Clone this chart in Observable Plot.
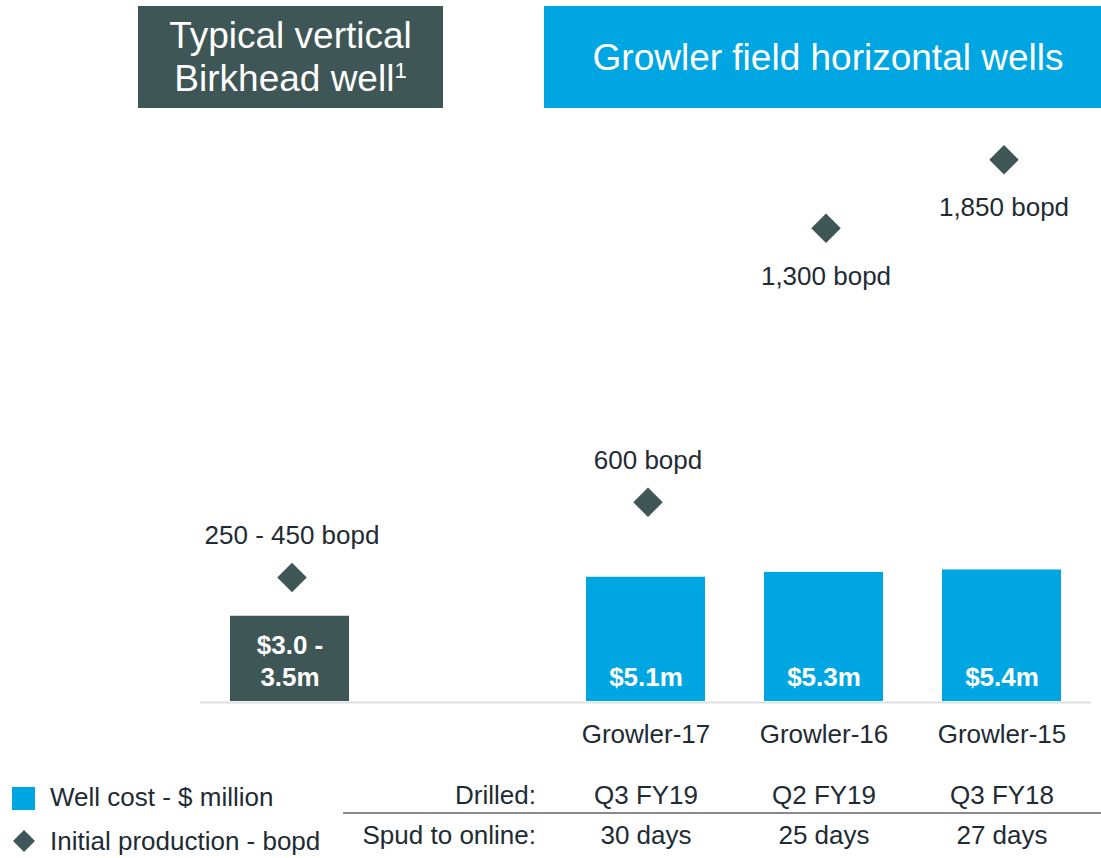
<!DOCTYPE html>
<html>
<head>
<meta charset="utf-8">
<script src="https://cdn.jsdelivr.net/npm/d3@7"></script>
<script src="https://cdn.jsdelivr.net/npm/@observablehq/plot@0.6"></script>
<style>
  html, body { margin: 0; padding: 0; background: #ffffff; }
  #wrap { position: relative; width: 1101px; height: 858px; overflow: hidden;
          font-family: "Liberation Sans", Arial, sans-serif; color: #212b33; }
  #chart { position: absolute; left: 0; top: 0; }
  .hdr { position: absolute; top: 6px; height: 102px; color: #ffffff; font-size: 37px;
         display: flex; align-items: center; justify-content: center; text-align: center;
         line-height: 43px; }
  #hdrV { left: 138px; width: 305px; background: #3e5655; }
  #hdrH { left: 544px; width: 557px; background: #00a6e1; padding-left: 11px; box-sizing: border-box; }
  .sup { font-size: 22px; position: relative; top: -13px; line-height: 0; }
  .legText { position: absolute; left: 50px; font-size: 26px; line-height: 26px; white-space: nowrap; }
  #legSq { position: absolute; left: 12px; top: 787px; width: 23px; height: 23px; background: #00a6e1; }
  #legDia { position: absolute; left: 13px; top: 830px; }
  #sep { position: absolute; left: 343px; top: 812px; width: 758px; height: 2px; background: #8a8a8a; }
</style>
</head>
<body>
<div id="wrap">
  <div id="chart"></div>
  <div class="hdr" id="hdrV"><div>Typical vertical<br>Birkhead well<span class="sup">1</span></div></div>
  <div class="hdr" id="hdrH"><div>Growler field horizontal wells</div></div>
  <div id="legSq"></div>
  <div class="legText" id="leg1" style="top:784px">Well cost - $ million</div>
  <svg id="legDia" width="22" height="22"><polygon points="11,0 22,11 11,22 0,11" fill="#3e5655"/></svg>
  <div class="legText" id="leg2" style="top:828px">Initial production - bopd</div>
  <div id="sep"></div>
</div>
<script>
// ---- data ----
const categories = ["Birkhead", "gap", "Growler-17", "Growler-16", "Growler-15"];
const wells = ["Birkhead", "Growler-17", "Growler-16", "Growler-15"];
const wellCost = [3.5, 5.1, 5.3, 5.4];                       // $ million (bar heights)
const costLabels = ["$3.0 -\n3.5m", "$5.1m", "$5.3m", "$5.4m"];
const ipLabels = ["250 - 450 bopd", "600 bopd", "1,300 bopd", "1,850 bopd"];
// diamond heights as drawn in the reference (illustrative, on the cost axis units)
const ipMarkerLevel = [5.09, 8.18, 19.43, 22.24];
const horizontalWells = ["Growler-17", "Growler-16", "Growler-15"];
const drilled = ["Q3 FY19", "Q2 FY19", "Q3 FY18"];
const spudToOnline = ["30 days", "25 days", "27 days"];
const rowLabels = ["Drilled:", "Spud to online:"];

// ---- styles ----
const DARK = "#3e5655";
const BLUE = "#00a6e1";
const TEXT = "#212b33";
const FONT = "Liberation Sans, Arial, sans-serif";

const data = wells.map((w, i) => ({
  well: w, cost: wellCost[i], costLabel: costLabels[i],
  ip: ipLabels[i], level: ipMarkerLevel[i]
}));
const table = horizontalWells.map((w, i) => ({ well: w, drilled: drilled[i], spud: spudToOnline[i] }));

const chart = Plot.plot({
  width: 1101,
  height: 858,
  marginTop: 19,
  marginBottom: 157,
  marginLeft: 200,
  marginRight: 10,
  style: { fontFamily: FONT, background: "transparent", overflow: "visible" },
  x: { domain: categories, paddingInner: 0.332, paddingOuter: 0.165, axis: null },
  y: { domain: [0, 28], axis: null },
  marks: [
    Plot.ruleY([0], { stroke: "#dce0e4", strokeWidth: 2, dy: 1 }),
    Plot.barY(data, { x: "well", y: "cost", fill: d => d.well === "Birkhead" ? DARK : BLUE }),
    Plot.text(data, { x: "well", y: 0, text: "costLabel", fill: "#ffffff", fontWeight: "bold",
      fontSize: 26, lineAnchor: "bottom", lineHeight: 1.23, dy: -16 }),
    Plot.dot(data, { x: "well", y: "level", symbol: "diamond2", r: 13.3, fill: DARK, dx: 2 }),
    Plot.text(data.filter(d => d.level < 10), { x: "well", y: "level", text: "ip", fill: TEXT,
      fontSize: 26, dx: 2, dy: -42 }),
    Plot.text(data.filter(d => d.level >= 10), { x: "well", y: "level", text: "ip", fill: TEXT,
      fontSize: 26, dx: 2, dy: 48 }),
    Plot.text(horizontalWells, { x: d => d, y: 0, text: d => d, fill: TEXT, fontSize: 26, dy: 33 }),
    Plot.text(table, { x: "well", y: 0, text: "drilled", fill: TEXT, fontSize: 26, dy: 94 }),
    Plot.text(table, { x: "well", y: 0, text: "spud", fill: TEXT, fontSize: 26, dy: 134 }),
    Plot.text([rowLabels[0]], { x: () => "gap", y: 0, text: d => d, fill: TEXT, fontSize: 26,
      textAnchor: "end", dx: 68, dy: 94 }),
    Plot.text([rowLabels[1]], { x: () => "gap", y: 0, text: d => d, fill: TEXT, fontSize: 26,
      textAnchor: "end", dx: 68, dy: 134 })
  ]
});
document.getElementById("chart").appendChild(chart);
</script>
</body>
</html>
